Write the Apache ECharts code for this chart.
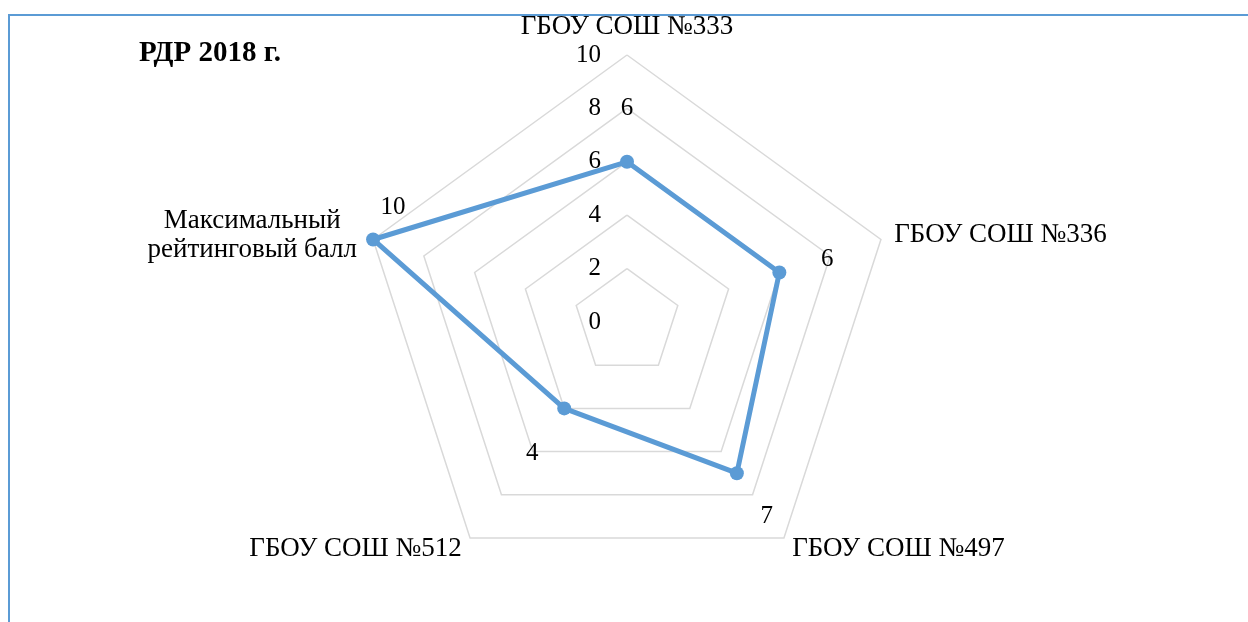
<!DOCTYPE html>
<html>
<head>
<meta charset="utf-8">
<script src="https://cdn.jsdelivr.net/npm/echarts@6/dist/echarts.min.js"></script>
<style>
    html, body { margin: 0; padding: 0; background: #fff; }
    #frame {
        position: absolute; left: 8px; top: 14px; width: 1240px; height: 608px;
        border-left: 2px solid #5b9bd5; border-top: 2px solid #5b9bd5;
    }
    #chart { position: absolute; left: 0; top: 0; width: 1248px; height: 622px; }
</style>
</head>
<body>
<div id="frame"></div>
<div id="chart"></div>
<script>
// показатели по часовой стрелке, начиная сверху
const schools = ['ГБОУ СОШ №333', 'ГБОУ СОШ №336', 'ГБОУ СОШ №497', 'ГБОУ СОШ №512', 'Максимальный\nрейтинговый балл'];
const scores = [6, 6, 7, 4, 10];
const maxScore = 10;
const tickStep = 2;

// сдвиг подписей данных относительно точки (px)
const labelOffsets = [[0, -53], [48, -13], [30, 43], [-32, 45], [20, -32]];

// echarts раскладывает оси против часовой стрелки — переставляем
const order = [0, 4, 3, 2, 1];

const font = '"Liberation Serif", "Times New Roman", serif';

let indicator = order.map(function (i, k) {
    let ind = { name: schools[i], min: 0, max: maxScore };
    if (k === 0) {
        ind.axisLabel = { show: true };
    }
    return ind;
});

let series = [{
    type: 'radar',
    symbol: 'circle',
    symbolSize: 14,
    lineStyle: { color: '#5b9bd5', width: 5 },
    itemStyle: { color: '#5b9bd5' },
    label: { show: false },
    data: [{ value: order.map(i => scores[i]) }],
    z: 3
}];

// отдельные подписи значений, у каждой своё смещение
order.forEach(function (i, k) {
    series.push({
        type: 'radar',
        symbol: 'circle',
        symbolSize: 1,
        silent: true,
        lineStyle: { width: 0, opacity: 0 },
        itemStyle: { color: 'transparent' },
        label: {
            show: true,
            position: 'inside',
            offset: labelOffsets[i],
            color: '#000',
            fontFamily: font,
            fontSize: 25,
            formatter: p => (p.value ? String(p.value) : '')
        },
        data: [{ value: order.map((j, kk) => (kk === k ? scores[i] : 0)) }],
        z: 4
    });
});

let option = {
    animation: false,
    title: {
        text: 'РДР 2018 г.',
        left: 134,
        top: 34,
        textStyle: { fontFamily: font, fontSize: 29, fontWeight: 'bold', color: '#000' }
    },
    radar: {
        center: [627, 322],
        radius: 267,
        startAngle: 90,
        splitNumber: maxScore / tickStep,
        shape: 'polygon',
        nameGap: 14,
        axisName: {
            color: '#000',
            fontFamily: font,
            fontSize: 27,
            lineHeight: 29,
            // двухстрочное название — по центру, как в Excel
            formatter: function (name) {
                if (name.indexOf('\n') < 0) return name;
                return name.split('\n').map(s => '{c|' + s + '}').join('\n');
            },
            rich: {
                c: { width: 215, align: 'center', fontFamily: font, fontSize: 27, lineHeight: 29, color: '#000' }
            }
        },
        axisLine: { show: false },
        axisTick: { show: false },
        axisLabel: { show: false, color: '#000', fontFamily: font, fontSize: 25, margin: 26 },
        splitLine: { lineStyle: { color: '#d9d9d9', width: 1.5 } },
        splitArea: { show: false },
        indicator: indicator
    },
    series: series
};

let chart = echarts.init(document.getElementById('chart'));
chart.setOption(option);
window.addEventListener('resize', function () {
    chart.resize();
});
</script>
</body>
</html>
